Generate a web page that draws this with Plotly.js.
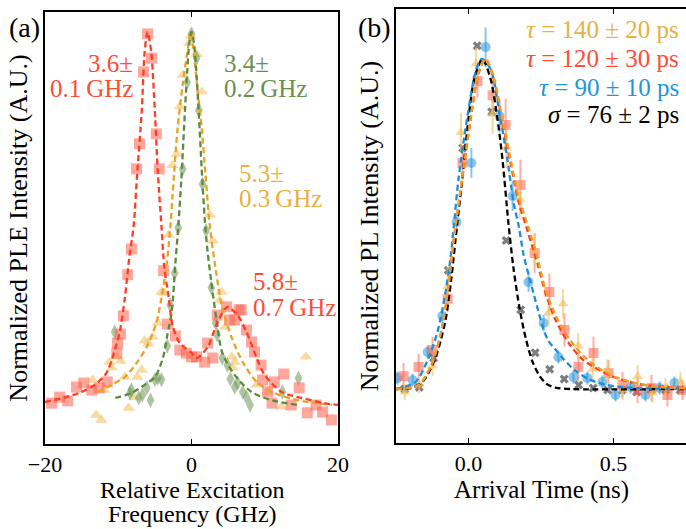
<!DOCTYPE html>
<html>
<head>
<meta charset="utf-8">
<script src="https://cdn.plot.ly/plotly-3.0.1.min.js"></script>
<style>html,body{margin:0;padding:0;background:#fff;}#chart{width:686px;height:529px;}</style>
</head>
<body>
<div id="chart"></div>
<script>
// ---------- Panel (a): PLE spectra ----------
const redSqX = [-19.1,-18.0,-16.9,-15.7,-14.7,-13.6,-12.6,-11.5,-10.2,-10.1,-9.7,-9.3,-8.7,-8.2,-7.5,-7.1,-6.55,-6.0,-5.46,-4.8,-4.4,-3.8,-3.3,-2.2,-1.6,-0.7,0,0.7,1.8,2.2,2.9,3.5,4.8,5.2,5.9,6.5,6.8,7.5,8.2,8.6,9.5,9.7,10.4,11.0,11.3,12.6,13.6,14.7,15.8,17.0,17.9,19.1];
const redSqY = [0.005,0.021,0.011,0.048,0.059,0.040,0.046,0.062,0.139,0.166,0.190,0.239,0.349,0.418,0.633,0.700,0.893,0.995,0.930,0.727,0.633,0.360,0.217,0.185,0.147,0.139,0.129,0.129,0.115,0.166,0.126,0.241,0.263,0.228,0.228,0.255,0.255,0.201,0.169,0.142,0.107,0.067,0.035,0.005,0.062,0.083,0.000,0.046,-0.021,0.000,-0.019,-0.040];

const greenDiX = [-10.5,-8.4,-8.2,-7.2,-6.7,-6.1,-5.6,-5.0,-4.6,-4.1,-3.3,-2.9,-2.3,-1.8,-1.2,-0.6,0,0.7,1.0,1.5,2.0,2.7,3.3,3.5,4.2,4.9,5.3,5.9,6.3,7.0,7.5,8.0,12.4,14.6];
const greenDiY = [0.196,0.032,0.040,0.019,0.027,0.046,0.013,0.068,0.072,0.068,0.158,0.268,0.354,0.475,0.633,0.865,0.995,0.930,0.790,0.592,0.468,0.314,0.220,0.188,0.126,0.107,0.070,0.048,0.059,0.035,0.021,0.000,0.035,0.072];

const yellowTrX = [-13.5,-13.0,-12.3,-11.9,-11.2,-10.9,-10.2,-9.7,-9.1,-8.6,-7.8,-7.4,-6.8,-6.4,-5.9,-5.3,-4.6,-4.1,-3.7,-3.1,-2.6,-2.0,-1.6,-1.2,-0.3,-0.1,0.7,1.4,2.5,2.9,3.8,4.1,4.6,5.5,5.6,5.9,8.9,10.4,12.3,15.6];
const yellowTrY = [0.067,-0.027,-0.040,0.040,0.115,0.100,0.129,0.118,0.075,-0.008,0.021,0.075,0.094,0.172,0.164,0.182,0.220,0.303,0.300,0.456,0.643,0.673,0.800,0.885,0.970,0.990,0.940,0.840,0.510,0.440,0.280,0.303,0.209,0.129,0.100,0.115,0.054,0.035,-0.005,0.129];

// fitted curves
const redFitX = [-20,-17.3,-15,-13.2,-11.6,-10.8,-9.8,-9.1,-8.5,-7.9,-7.4,-6.8,-6.4,-6.0,-5.5,-5.0,-4.6,-4.1,-3.7,-3.1,-2.6,-1.6,0,0.7,2.2,3.5,4.9,6.3,7.5,8.9,10,12.3,15,18.1,20];
const redFitY = [0.008,0.020,0.035,0.054,0.086,0.126,0.196,0.287,0.394,0.480,0.625,0.785,0.946,1.000,0.946,0.785,0.625,0.480,0.367,0.287,0.214,0.166,0.140,0.126,0.155,0.220,0.263,0.240,0.196,0.126,0.080,0.035,0.019,0.005,0.000];
const greenFitX = [-10.4,-8.2,-6.4,-5,-3.9,-3.3,-2.7,-2.2,-1.8,-1.4,-1,-0.6,-0.3,0,0.3,0.6,1,1.4,1.8,2.2,2.7,3.4,4.2,5.9,8.2,10.9,14.5];
const greenFitY = [0.019,0.032,0.054,0.075,0.126,0.188,0.250,0.380,0.480,0.600,0.750,0.890,0.970,1.000,0.975,0.910,0.780,0.630,0.500,0.410,0.330,0.230,0.140,0.080,0.035,0.013,0.000];
const yellowFitX = [-12.8,-10.9,-9.1,-7.4,-6.0,-4.8,-4.1,-3.4,-2.9,-2.6,-1.9,-1.2,-0.5,-0.1,0.2,0.8,1.4,1.9,2.5,3.4,4.2,5.5,7.0,8.9,11.3,14.5,17.2,19.2];
const yellowFitY = [0.035,0.054,0.075,0.115,0.160,0.220,0.287,0.375,0.475,0.560,0.740,0.860,0.955,1.000,0.965,0.850,0.740,0.620,0.480,0.350,0.260,0.180,0.115,0.062,0.032,0.013,0.005,0.000];

const freqTicks = [-20, 0, 20];

// ---------- Panel (b): PL decay ----------
const irfT = [-0.22,-0.17,-0.12,-0.07,-0.02,0.03,0.08,0.13,0.18,0.23,0.28,0.33,0.38,0.43,0.48,0.53,0.58,0.63,0.68,0.73];
const irfY = [0.000,0.005,0.094,0.360,0.730,1.040,0.840,0.450,0.240,0.110,0.060,0.030,0.012,0.003,-0.003,-0.003,-0.009,-0.003,-0.003,-0.003];

const blueT = [-0.245,-0.193,-0.141,-0.09,-0.041,0.010,0.059,0.107,0.152,0.207,0.259,0.31,0.362,0.41,0.462,0.507,0.559,0.61,0.659,0.71];
const blueY = [0.033,0.027,0.112,0.221,0.506,0.685,1.036,0.827,0.585,0.324,0.200,0.097,0.036,0.033,0.021,-0.018,0.006,-0.018,0.003,0.018];
const blueErr = [0.02,0.02,0.02,0.02,0.03,0.045,0.06,0.05,0.045,0.03,0.025,0.02,0.02,0.02,0.02,0.02,0.02,0.02,0.02,0.02];

const redT = [-0.224,-0.172,-0.124,-0.072,-0.021,0.031,0.083,0.128,0.179,0.228,0.279,0.331,0.379,0.431,0.483,0.531,0.583,0.631,0.686,0.738];
const redY = [0.039,0.067,0.118,0.273,0.685,0.933,0.890,0.800,0.618,0.412,0.294,0.179,0.067,0.109,0.048,0.012,-0.003,0.003,-0.018,-0.003];
const redErr = [0.04,0.04,0.04,0.04,0.05,0.05,0.06,0.08,0.077,0.06,0.056,0.05,0.045,0.05,0.04,0.04,0.04,0.04,0.035,0.03];

const yelT = [-0.22,-0.17,-0.124,-0.072,-0.026,0.026,0.083,0.131,0.177,0.228,0.276,0.326,0.378,0.428,0.479,0.531,0.583,0.634,0.679,0.731];
const yelY = [-0.009,0.012,0.070,0.310,0.777,0.985,0.833,0.730,0.575,0.420,0.230,0.258,0.130,0.060,0.055,-0.003,0.038,-0.012,0.003,0.021];
const yelErr = [0.025,0.025,0.03,0.06,0.06,0.05,0.06,0.06,0.06,0.05,0.04,0.045,0.04,0.04,0.035,0.03,0.035,0.03,0.03,0.03];

const irfFitT = [-0.25,-0.2,-0.16,-0.14,-0.114,-0.095,-0.079,-0.06,-0.039,-0.021,0.0,0.02,0.048,0.076,0.1,0.117,0.138,0.155,0.176,0.197,0.221,0.245,0.27,0.3,0.35,0.75];
const irfFitY = [0.0,0.003,0.02,0.045,0.094,0.15,0.21,0.33,0.5,0.64,0.82,0.94,1.0,0.94,0.818,0.697,0.5,0.367,0.245,0.155,0.082,0.04,0.015,0.004,0.0,0.0];
const blueFitT = [-0.25,-0.183,-0.138,-0.107,-0.079,-0.062,-0.05,-0.034,-0.003,0.024,0.045,0.076,0.11,0.134,0.155,0.174,0.19,0.214,0.238,0.259,0.276,0.3,0.324,0.369,0.414,0.472,0.552,0.75];
const blueFitY = [0.0,0.021,0.094,0.173,0.294,0.397,0.5,0.64,0.83,0.96,1.0,0.97,0.818,0.697,0.567,0.49,0.406,0.324,0.245,0.18,0.145,0.12,0.094,0.055,0.03,0.013,0.004,0.0];
const redFitT = [-0.25,-0.172,-0.124,-0.09,-0.069,-0.05,-0.021,0.007,0.035,0.059,0.086,0.117,0.145,0.172,0.205,0.238,0.266,0.3,0.345,0.393,0.462,0.531,0.61,0.75];
const redFitV = [0.0,0.012,0.08,0.19,0.31,0.455,0.64,0.815,0.958,1.0,0.945,0.81,0.685,0.57,0.475,0.38,0.29,0.21,0.14,0.09,0.052,0.027,0.012,0.003];
const yelFitT = [-0.25,-0.172,-0.124,-0.09,-0.069,-0.05,-0.021,0.007,0.035,0.059,0.086,0.117,0.145,0.172,0.205,0.238,0.266,0.3,0.345,0.393,0.448,0.507,0.576,0.645,0.75];
const yelFitV = [0.0,0.012,0.082,0.194,0.315,0.46,0.645,0.818,0.96,1.0,0.948,0.818,0.697,0.585,0.495,0.397,0.3,0.224,0.155,0.103,0.064,0.036,0.018,0.007,0.002];

const timeTicks = [0.0, 0.5];

// ---------- styling ----------
const FONT = '"Liberation Serif", "DejaVu Serif", serif';
const W = 686, H = 529;
const px = v => v / W, py = v => 1 - v / H;
const DASH = '6px,3.5px';

function markers(x, y, symbol, color, size, axes, err, errColor) {
  const t = {x, y, mode: 'markers', type: 'scatter', xaxis: axes[0], yaxis: axes[1],
    marker: {symbol, color, size, line: {width: 0}}, hoverinfo: 'skip', showlegend: false};
  if (err) t.error_y = {type: 'data', array: err, visible: true, color: errColor, thickness: 2, width: 0};
  return t;
}
function fit(x, y, color, axes) {
  return {x, y, mode: 'lines', type: 'scatter', xaxis: axes[0], yaxis: axes[1],
    line: {color, width: 2.3, dash: DASH, shape: 'spline', smoothing: 0.8}, hoverinfo: 'skip', showlegend: false};
}
const A = ['x', 'y'], B = ['x2', 'y2'];

const traces = [
  markers(yellowTrX, yellowTrY, 'triangle-up', 'rgba(240,190,90,0.55)', 11, A),
  markers(greenDiX, greenDiY, 'diamond-tall', 'rgba(110,150,85,0.55)', 11, A),
  markers(redSqX, redSqY, 'square', 'rgba(255,95,75,0.55)', 11, A),
  fit(yellowFitX, yellowFitY, '#E8A325', A),
  fit(greenFitX, greenFitY, '#5E8A3E', A),
  fit(redFitX, redFitY, '#FF3D22', A),

  markers(irfT, irfY, 'x', 'rgba(70,70,70,0.7)', 8, B),
  markers(blueT, blueY, 'circle', 'rgba(40,150,220,0.55)', 10, B, blueErr, 'rgba(40,150,220,0.55)'),
  markers(redT, redY, 'square', 'rgba(255,95,75,0.55)', 10, B, redErr, 'rgba(255,95,75,0.5)'),
  markers(yelT, yelY, 'triangle-up', 'rgba(240,190,90,0.6)', 10, B, yelErr, 'rgba(240,190,90,0.6)'),
  fit(irfFitT, irfFitY, '#000000', B),
  fit(blueFitT, blueFitY, '#1A8FD8', B),
  fit(redFitT, redFitV, '#FF3D22', B),
  fit(yelFitT, yelFitV, '#E8A325', B)
];

const axisCommon = {showline: true, linewidth: 2, linecolor: '#000', mirror: 'ticks', showgrid: false, zeroline: false,
  ticks: 'inside', ticklen: 5, tickwidth: 1.5, tickcolor: '#000', tickfont: {family: FONT, size: 22, color: '#000'}};
const yCommon = {showline: true, linewidth: 2, linecolor: '#000', mirror: true, showgrid: false, zeroline: false,
  ticks: '', showticklabels: false};

function ann(text, x, y, color, xanchor, size) {
  return {text, x: px(x), y: py(y), xref: 'paper', yref: 'paper', xanchor, yanchor: 'middle', showarrow: false,
    font: {family: FONT, size: size || 24, color}};
}
const RED = '#FF4D33', GRN = '#6A8F4C', YEL = '#E9B13F', BLU = '#1E96DC';
const TS = '\u2009';

const layout = {
  width: W, height: H, margin: {l: 0, r: 0, t: 0, b: 0}, paper_bgcolor: '#fff', plot_bgcolor: '#fff',
  font: {family: FONT, color: '#000'},
  xaxis: Object.assign({}, axisCommon, {domain: [px(45), px(338)], range: [-20, 20], tickvals: freqTicks}),
  yaxis: Object.assign({}, yCommon, {domain: [1 - 444 / H, 1 - 12 / H], range: [-0.1046, 1.0536],
    title: {text: 'Normalized PLE Intensity (A.U.)', font: {family: FONT, size: 26}, standoff: 8}}),
  xaxis2: Object.assign({}, axisCommon, {domain: [px(396), 1], range: [-0.25, 0.75], tickvals: timeTicks, tickformat: '.1f',
    anchor: 'y2'}),
  yaxis2: Object.assign({}, yCommon, {domain: [1 - 443 / H, 1 - 9 / H], range: [-0.1636, 1.1515], anchor: 'x2',
    title: {text: 'Normalized PL Intensity (A.U.)', font: {family: FONT, size: 26}, standoff: 8}}),
  annotations: [
    // x-axis titles
    ann('Relative Excitation', 192, 490, '#000', 'center', 24),
    ann('Frequency (GHz)', 192, 514, '#000', 'center', 24),
    ann('Arrival Time (ns)', 541, 490, '#000', 'center', 25),
    // panel labels
    ann('(a)', 7, 27, '#000', 'left', 28),
    ann('(b)', 356, 27, '#000', 'left', 28),
    // linewidth labels
    ann('3.6±', 135, 63, RED, 'right', 25),
    ann('0.1' + TS + 'GHz', 135, 88, RED, 'right', 25),
    ann('3.4±', 222, 63, GRN, 'left', 25),
    ann('0.2' + TS + 'GHz', 222, 88, GRN, 'left', 25),
    ann('5.3±', 237, 173, YEL, 'left', 25),
    ann('0.3' + TS + 'GHz', 237, 198, YEL, 'left', 25),
    ann('5.8±', 251, 281, RED, 'left', 25),
    ann('0.7' + TS + 'GHz', 251, 307, RED, 'left', 25),
    // lifetimes
    ann('<i>τ</i> = 140 ± 20 ps', 681, 30, YEL, 'right', 25),
    ann('<i>τ</i> = 120 ± 30 ps', 681, 58, RED, 'right', 25),
    ann('<i>τ</i> = 90 ± 10 ps', 681, 87, BLU, 'right', 25),
    ann('<i>σ</i> = 76 ± 2 ps', 681, 115, '#000', 'right', 25)
  ]
};

Plotly.newPlot('chart', traces, layout, {staticPlot: true, displayModeBar: false});
</script>
</body>
</html>
